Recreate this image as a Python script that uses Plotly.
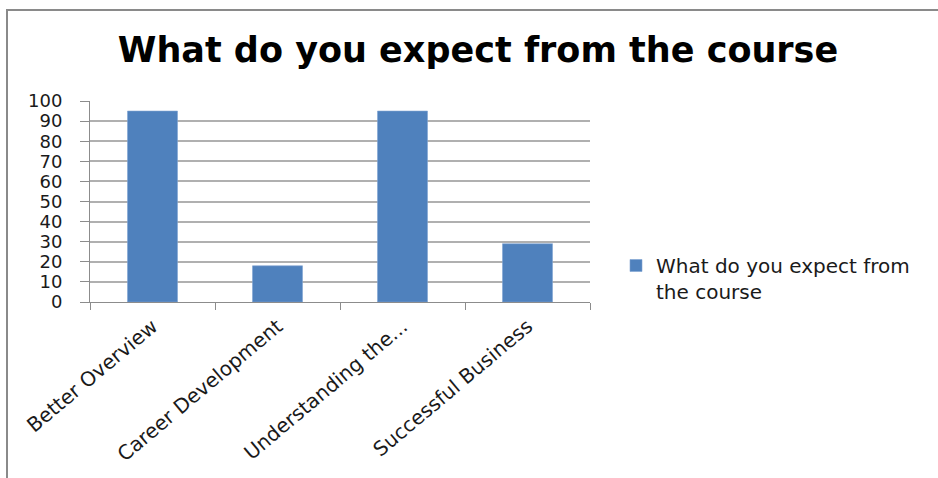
import plotly.graph_objects as go

# Survey answers: share of respondents per expectation
categories = ["Better Overview", "Career Development", "Understanding the...", "Successful Business"]
values = [95, 18, 95, 29]
series_name = "What do you expect from<br>the course"
title_text = "What do you expect from the course"
y_ticks = list(range(0, 101, 10))

BAR_BLUE = "#4F81BD"
AXIS_GREY = "#8C8C8C"
GRID_GREY = "#B0B0B0"
TEXT = "#1A1A1A"

W, H = 938, 478
L, R, T, B = 90, 348, 101, 174  # plot area: x 90..590, y 101..304

fig = go.Figure(
    go.Bar(
        x=categories,
        y=values,
        name=series_name,
        marker=dict(color=BAR_BLUE, line=dict(color="#7FA3D1", width=0.6)),
        width=0.4,
        showlegend=True,
    )
)

# frame around the whole chart (left and top edges visible)
px_w, px_h = W - L - R, H - T - B
fx0 = (7 - L) / px_w
fy1 = (H - B - 9) / px_h
fig.add_shape(
    type="rect", xref="paper", yref="paper",
    x0=fx0, x1=(W + 20 - L) / px_w,
    y0=(H - B - (H + 20)) / px_h, y1=fy1,
    line=dict(color="#8A8A8A", width=2), fillcolor="rgba(0,0,0,0)",
    layer="below",
)

fig.update_layout(
    width=W, height=H,
    margin=dict(l=L, r=R, t=T, b=B, pad=0),
    paper_bgcolor="white", plot_bgcolor="white",
    title=dict(
        text=title_text,
        x=478 / W, xanchor="center", xref="container",
        y=1 - 50 / H, yanchor="middle", yref="container",
        font=dict(family="DejaVu Sans", size=35, color="black", weight="bold"),
    ),
    font=dict(family="DejaVu Sans", color=TEXT),
    legend=dict(
        x=616 / W, xanchor="left", xref="container",
        y=1 - 246 / H, yanchor="top", yref="container",
        valign="top",
        font=dict(family="DejaVu Sans", size=20, color=TEXT),
        bgcolor="rgba(0,0,0,0)",
        itemclick=False,
    ),
    bargap=0.6,
)

fig.update_xaxes(
    type="category",
    showline=True, linecolor=AXIS_GREY, linewidth=1,
    ticks="outside", tickson="boundaries", ticklen=7, tickcolor=AXIS_GREY,
    tickangle=-40,
    tickfont=dict(family="DejaVu Sans", size=20, color=TEXT),
    ticklabelstandoff=4,
    showgrid=False,
)
fig.update_yaxes(
    range=[0, 100],
    tickvals=y_ticks,
    showline=True, linecolor=AXIS_GREY, linewidth=1,
    ticks="outside", ticklen=9, tickcolor=AXIS_GREY,
    showgrid=True, gridcolor=GRID_GREY, gridwidth=1.5,
    zeroline=False,
    tickfont=dict(family="DejaVu Sans", size=18, color=TEXT),
    ticklabelstandoff=14,
)

fig.write_html("out.html")
